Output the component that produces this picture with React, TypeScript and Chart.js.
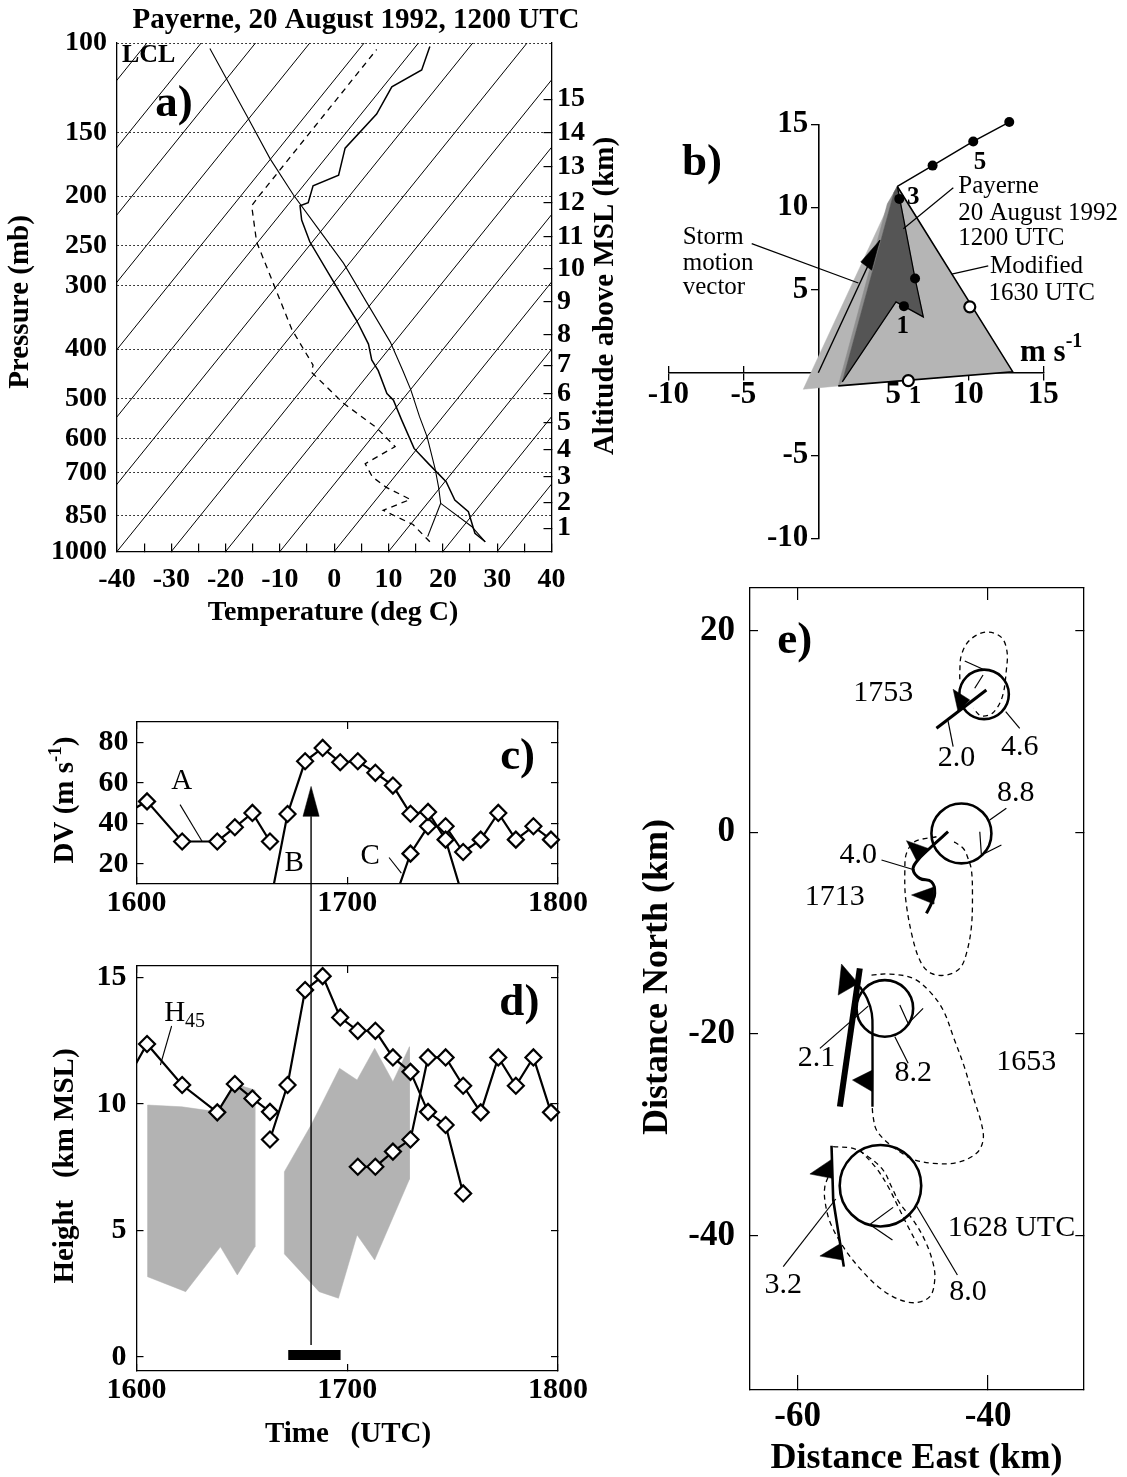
import React, { useEffect, useRef } from 'react';
import { Chart, registerables } from 'chart.js';

Chart.register(...registerables);

const SERIF = '"Liberation Serif", "Times New Roman", Times, serif';
const PAGE_W = 1127;
const PAGE_H = 1477;
const BLACK = '#000000';

/* ================= a) Payerne sounding (skew-T) ================= */
const TEMP_AXIS_TICKS = [-40, -35, -30, -25, -20, -15, -10, -5, 0, 5, 10, 15, 20, 25, 30, 35, 40];
const PRESSURE_TICKS = [100, 150, 200, 250, 300, 400, 500, 600, 700, 850, 1000];
const ALTITUDE_LABELS = ['1', '2', '3', '4', '5', '6', '7', '8', '9', '10', '11', '12', '13', '14', '15'];
const ALTITUDE_PRESSURE = [900, 801, 713, 631, 557, 490, 430, 375, 323, 278, 240, 206, 175, 150, 129];
const ISOTHERM_BASE = [-120, -110, -100, -90, -80, -70, -60, -50, -40, -30, -20, -10, 0, 10, 20, 30];
const ISOTHERM_SKEW = 75.5;
const ENV_P = [957, 921, 835, 792, 729, 671, 627, 551, 504, 489, 441, 420, 391, 351, 294, 246, 223, 209, 206, 191, 182, 161, 138, 122, 113, 101.6];
const ENV_T = [27.8, 25.9, 24.7, 22.2, 20.6, 17.3, 14.7, 12.4, 10.9, 9.7, 8.1, 6.9, 6.3, 4.1, -0.2, -4.5, -6.0, -6.3, -4.8, -3.9, 0.8, 2.0, 7.8, 10.6, 16.1, 17.6];
const DEW_P = [957, 885, 830, 790, 747, 713, 672, 622, 571, 511, 444, 430, 366, 246, 209, 199, 103];
const DEW_T = [17.6, 14.5, 9.0, 14.0, 9.5, 7.0, 5.7, 11.2, 7.8, 1.7, -4.2, -3.9, -7.8, -14.3, -15.2, -13.7, 7.8];
const PARCEL_P = [957, 893, 804, 746, 686, 595, 543, 481, 440, 387, 324, 271, 230, 199, 169, 139, 102.5];
const PARCEL_T = [27.8, 25.3, 19.6, 19.2, 18.55, 17.1, 15.7, 14.1, 12.6, 10.3, 6.0, 1.7, -3.2, -7.5, -11.8, -16.1, -22.9];
const MIXING_P = [804, 935];
const MIXING_T = [19.6, 17.2];

/* ================= b) hodograph ================= */
const HODO_TICKS = [-10, -5, 0, 5, 10, 15];
const HODO_X_LABELS = [-10, -5, 5, 10, 15];
const HODO_Y_LABELS = [15, 10, 5, -5, -10];
const PAYERNE_UPPER_U = [5.27, 7.62, 10.33, 12.73];
const PAYERNE_UPPER_V = [11.25, 12.51, 13.97, 15.14];
const PAYERNE_LOWER_U = [5.27, 6.45, 7.0, 5.18, 1.6];
const PAYERNE_LOWER_V = [11.25, 5.69, 3.37, 4.28, -0.55];
const PAYERNE_DOT_U = [5.71, 6.45, 5.4, 7.62, 10.33, 12.73];
const PAYERNE_DOT_V = [4.02, 5.69, 10.5, 12.51, 13.97, 15.14];
const MODIFIED_U = [1.33, 12.96, 5.27];
const MODIFIED_V = [-0.8, 0.06, 11.25];
const MODIFIED_DOT_U = [6.0, 10.1];
const MODIFIED_DOT_V = [-0.48, 3.98];
const LIGHT_U = [-1.0, 5.27, 12.96, 1.33];
const LIGHT_V = [-1.0, 11.25, 0.06, -0.8];
const MEDIUM_U = [1.33, 4.6, 5.27, 5.05, 1.6];
const MEDIUM_V = [-0.8, 10.2, 11.25, 10.9, -0.55];
const DARK_U = [1.6, 5.05, 5.27, 6.45, 7.0, 5.18];
const DARK_V = [-0.55, 10.9, 11.25, 5.69, 3.37, 4.28];
const STORM_U = [0, 4.1];
const STORM_V = [0, 8.0];
const STORM_HEAD_U = [2.83, 4.1, 3.56];
const STORM_HEAD_V = [6.69, 8.0, 6.19];
const HODO_LEADER_U = [[-4.44, 2.67], [9.0, 5.67], [11.33, 8.89]];
const HODO_LEADER_V = [[7.8, 5.42], [11.17, 8.7], [6.45, 5.95]];

/* ================= c) DV and d) H45 time series (minutes after 1600 UTC) ================= */
const TIME_TICKS = [0, 60, 120];
const TIME_LABELS = ['1600', '1700', '1800'];
const DV_TICKS = [20, 40, 60, 80];
const DV_A_TIME = [-7, 3, 13, 23, 28, 33, 38];
const DV_A = [41, 50.8, 31, 31, 38, 45.1, 31];
const DV_B_TIME = [38, 43, 48, 53, 58, 63, 68, 73, 78, 83, 88, 93];
const DV_B = [0, 44.6, 70.6, 77.2, 70.1, 70.6, 64.9, 58.6, 44.7, 45.6, 31.9, 3];
const DV_C_TIME = [73, 78, 83, 88, 93, 98, 103, 108, 113, 118];
const DV_C = [0, 25.0, 38.5, 38.5, 25.8, 31.9, 45.1, 31.9, 38.5, 31.9];
const HEIGHT_TICKS = [0, 5, 10, 15];
const H_A_TIME = [-7, 3, 13, 23, 28, 33, 38];
const H_A = [9.9, 12.36, 10.74, 9.66, 10.78, 10.21, 9.68];
const H_B_TIME = [38, 43, 48, 53, 58, 63, 68, 73, 78, 83, 88, 93];
const H_B = [8.59, 10.74, 14.49, 15.04, 13.41, 12.88, 12.88, 11.83, 11.26, 9.68, 9.16, 6.46];
const H_C_TIME = [63, 68, 73, 78, 83, 88, 93, 98, 103, 108, 113, 118];
const H_C = [7.51, 7.51, 8.11, 8.59, 11.83, 11.83, 10.71, 9.66, 11.83, 10.71, 11.83, 9.66];
const ECHO1_TIME = [3.15, 12.9, 23.1, 27.8, 33.7, 33.7, 28.7, 23.9, 14.0, 3.15];
const ECHO1_H = [9.95, 9.88, 9.68, 10.8, 10.54, 4.35, 3.24, 4.35, 2.58, 3.17];
const ECHO2_TIME = [42.1, 49.7, 57.8, 62.8, 67.8, 73.0, 77.7, 77.7, 67.8, 62.8, 57.5, 52.0, 42.1];
const ECHO2_H = [7.32, 9.16, 11.4, 10.94, 12.19, 10.87, 12.25, 7.02, 3.83, 4.82, 2.32, 2.58, 4.07];
const BAR_TIME = [43.2, 58.1];
const BAR_H = [0.08, 0.08];
const ARROW_TIME = 49.7;
const ARROW_TIP_DV = 58.2;
const ARROW_BASE_DV = 43.4;
const ARROW_HALF_MIN = 2.3;
const ARROW_FOOT_KM = 0.47;

/* ================= e) storm-relative map (km) ================= */
const E_X_TICKS = [-60, -40];
const E_Y_TICKS = [20, 0, -20, -40];
const E_CIRCLE_X = [-51.3, -50.84, -42.8, -40.42];
const E_CIRCLE_Y = [-35.05, -17.46, -0.1, 13.7];
const E_CIRCLE_R = [4.28, 2.97, 3.15, 2.6];
const FRONT_1628_X = [-56.44, -56.26, -55.15];
const FRONT_1628_Y = [-31.08, -36.47, -43.08];
const FRONT_1653_THICK_X = [-53.47, -55.56];
const FRONT_1653_THICK_Y = [-13.49, -27.21];
const FRONT_1653_X = [-53.47, -52.7, -52.21, -52.14, -52.14];
const FRONT_1653_Y = [-15.31, -16.47, -17.95, -19.94, -27.21];
const FRONT_1713_X = [-44.2, -45.95, -47.52, -47.87, -47.17, -45.95, -45.6, -45.95, -46.47];
const FRONT_1713_Y = [0.07, -1.42, -2.91, -3.73, -4.56, -4.89, -6.05, -7.04, -8.03];
const FRONT_1753_X = [-45.42, -40.18];
const FRONT_1753_Y = [10.33, 14.13];
const PENNANT_X = [[-43.67, -41.92, -43.15], [-48.57, -46.29, -47.45], [-48.04, -45.77, -45.7], [-55.39, -53.64, -55.74], [-54.24, -52.14, -52.14], [-58.71, -56.44, -56.37], [-57.66, -55.46, -55.29]];
const PENNANT_Y = [[14.2, 13.14, 11.98], [-0.82, -1.59, -2.91], [-6.21, -5.45, -7.11], [-13.06, -14.98, -16.14], [-24.57, -23.58, -25.73], [-33.89, -32.44, -34.32], [-42.03, -40.77, -42.42]];
const OUTLINE_1628_X = [-56.27, -54.17, -52.59, -51.02, -50.14, -49.27, -47.87, -46.65, -45.77, -45.6, -46.12, -47.7, -49.62, -51.54, -53.47, -55.22, -56.61, -57.14, -57.14, -56.79];
const OUTLINE_1628_Y = [-31.18, -31.35, -32.17, -33.5, -35.15, -36.8, -38.46, -40.44, -42.75, -44.41, -46.06, -46.66, -46.23, -45.07, -43.25, -41.1, -38.62, -36.47, -35.15, -34.16];
const INNER_1628_X = [-53.47, -51.72, -50.49, -49.45, -48.22, -47.17];
const INNER_1628_Y = [-31.51, -33.33, -35.15, -37.13, -39.45, -41.27];
const OUTLINE_1653_X = [-52.24, -50.32, -47.87, -46.12, -44.72, -43.6, -42.5, -41.57, -40.7, -40.52, -41.22, -43.32, -45.77, -47.87, -49.27, -50.67, -51.72, -52.07, -52.17];
const OUTLINE_1653_Y = [-14.15, -14.05, -14.48, -15.8, -17.62, -20.4, -23.24, -26.22, -28.87, -30.52, -31.84, -32.77, -32.83, -32.44, -31.68, -30.68, -29.53, -28.2, -27.21];
const OUTLINE_1713_X = [-45.42, -47.7, -48.57, -48.74, -48.64, -47.87, -47.0, -45.95, -44.37, -42.97, -42.27, -41.75, -41.64, -41.75, -42.1, -42.6, -43.85];
const OUTLINE_1713_Y = [-0.43, -0.92, -2.08, -3.73, -6.71, -10.68, -12.99, -13.99, -14.15, -13.49, -12.0, -9.36, -6.05, -3.73, -2.58, -1.6, -0.76];
const OUTLINE_1753_X = [-42.97, -42.97, -42.8, -41.92, -40.18, -38.6, -38.01, -38.08, -38.5, -39.48, -40.7, -41.57];
const OUTLINE_1753_Y = [15.2, 15.95, 17.6, 19.09, 19.88, 19.35, 17.93, 16.11, 13.47, 11.88, 11.55, 12.31];
const E_THIN_X = [[-42.45, -40.35], [-41.4, -40.53], [-44.2, -43.67], [-38.15, -36.68], [-40.87, -40.7, -38.6], [-39.83, -38.08], [-51.19, -47.7], [-52.59, -57.66], [-49.27, -48.39, -46.82], [-49.79, -48.39], [-61.51, -55.99], [-47.52, -43.22], [-52.35, -49.97], [-52.35, -50.04]];
const E_THIN_Y = [[17.01, 16.11], [14.3, 15.62], [11.05, 8.51], [11.98, 10.33], [0.07, -2.25, -1.25], [1.23, 2.39], [-2.74, -3.73], [-17.23, -21.43], [-17.13, -18.95, -17.46], [-20.27, -22.91], [-43.08, -36.37], [-37.07, -43.91], [-38.85, -37.2], [-38.95, -40.44]];
const E_LABELS = ['1753', '2.0', '4.6', '8.8', '4.0', '1713', '2.1', '8.2', '1653', '3.2', '8.0', '1628 UTC'];
const E_LABEL_X = [-51.02, -43.32, -36.68, -37.1, -53.64, -56.09, -58.01, -47.87, -35.98, -61.51, -42.1, -37.55];
const E_LABEL_Y = [13.8, 7.35, 8.51, 3.88, -2.25, -6.38, -22.42, -23.91, -22.75, -44.9, -45.57, -39.28];

/* ================= helpers ================= */
type Seg = { t: string; size?: number; dy?: number };
type TextItem = {
  segs: Seg[]; x: number; y: number; size: number; bold?: boolean;
  align?: 'left' | 'center' | 'right'; rot?: number; data?: boolean; ox?: number; oy?: number;
};

function txt(t: string, x: number, y: number, size: number, extra: Partial<TextItem> = {}): TextItem {
  return { segs: [{ t }], x, y, size, ...extra };
}

function drawTexts(chart: any, items: TextItem[]) {
  const ctx = chart.ctx as CanvasRenderingContext2D;
  ctx.save();
  ctx.fillStyle = BLACK;
  ctx.textBaseline = 'middle';
  ctx.textAlign = 'left';
  for (const it of items) {
    let x = it.x;
    let y = it.y;
    if (it.data) {
      x = chart.scales.x.getPixelForValue(it.x);
      y = chart.scales.y.getPixelForValue(it.y);
    }
    x += it.ox || 0;
    y += it.oy || 0;
    const weight = it.bold ? 'bold ' : '';
    const fonts = it.segs.map((s) => `${weight}${s.size || it.size}px ${SERIF}`);
    const widths = it.segs.map((s, i) => {
      ctx.font = fonts[i];
      return ctx.measureText(s.t).width;
    });
    const total = widths.reduce((a, b) => a + b, 0);
    const align = it.align || 'center';
    let cx = align === 'center' ? -total / 2 : align === 'right' ? -total : 0;
    ctx.save();
    ctx.translate(x, y);
    if (it.rot) ctx.rotate(it.rot);
    it.segs.forEach((s, i) => {
      ctx.font = fonts[i];
      ctx.fillText(s.t, cx, s.dy || 0);
      cx += widths[i];
    });
    ctx.restore();
  }
  ctx.restore();
}

const textPlugin = (items: TextItem[]) => ({ id: 'pageTexts', afterDraw: (chart: any) => drawTexts(chart, items) });

// fixed axis box sizes, so the plot areas land exactly where the panels are
const fitTo = (size: number) => (s: any) => {
  if (s.isHorizontal()) s.height = size;
  else s.width = size;
};
const setTicks = (vals: number[]) => (s: any) => {
  s.ticks = vals.map((v) => ({ value: v }));
};
const boldFont = (size: number) => ({ family: SERIF, size, weight: 'bold' as const });
// area: plot-area edges in page pixels; sizes: axis box sizes placed on each side
const pad = (l: number, t: number, r: number, b: number, sizes: { l?: number; t?: number; r?: number; b?: number } = {}) => ({
  left: l - (sizes.l || 0),
  top: t - (sizes.t || 0),
  right: PAGE_W - r - (sizes.r || 0),
  bottom: PAGE_H - b - (sizes.b || 0),
});

function baseOptions(padding: any, scales: any) {
  return {
    responsive: false,
    maintainAspectRatio: false,
    animation: false as const,
    devicePixelRatio: 1,
    events: [] as any[],
    layout: { padding },
    plugins: { legend: { display: false }, tooltip: { enabled: false }, title: { display: false } },
    elements: { point: { radius: 0, hoverRadius: 0 }, line: { tension: 0 } },
    scales,
  };
}

function line(xs: number[], ys: number[], extra: any = {}) {
  return {
    data: xs.map((x, i) => ({ x, y: ys[i] })),
    borderColor: BLACK,
    borderWidth: 1,
    pointRadius: 0,
    fill: false,
    order: 5,
    ...extra,
  };
}

function polygon(xs: number[], ys: number[], color: string, order: number, extra: any = {}) {
  return line([...xs, xs[0]], [...ys, ys[0]], {
    fill: 'shape',
    backgroundColor: color,
    borderColor: color,
    borderWidth: 0.5,
    order,
    ...extra,
  });
}

const boxAxis = (axis: 'x' | 'y', position: string, min: number, max: number, ticks: number[], tickLength: number, size: number, labels?: any) => ({
  axis,
  type: 'linear',
  min,
  max,
  position,
  afterFit: fitTo(size),
  afterBuildTicks: setTicks(ticks),
  ticks: labels ? { autoSkip: false, maxRotation: 0, minRotation: 0, color: BLACK, ...labels } : { display: false },
  grid: { drawOnChartArea: false, drawTicks: true, tickLength, color: BLACK, lineWidth: 1.2 },
  border: { display: true, color: BLACK, width: 1.3 },
});

/* ================= configs ================= */
function configA() {
  const isotherms = ISOTHERM_BASE.map((t0) => line([t0, t0 + ISOTHERM_SKEW], [1000, 100], { borderWidth: 1 }));
  const texts: TextItem[] = [
    txt('Payerne, 20 August 1992, 1200 UTC', 356, 21, 29, { bold: true }),
    txt('LCL', 122, 55, 26, { bold: true, align: 'left' }),
    txt('a)', 174, 104, 45, { bold: true }),
    txt('Pressure (mb)', 21, 302, 29, { bold: true, rot: -Math.PI / 2 }),
    txt('Altitude above MSL (km)', 606, 296, 29, { bold: true, rot: -Math.PI / 2 }),
    txt('Temperature (deg C)', 333, 613, 28, { bold: true }),
  ];
  return {
    type: 'line',
    data: {
      datasets: [
        line(ENV_T, ENV_P, { borderWidth: 1.5, order: 1 }),
        line(PARCEL_T, PARCEL_P, { borderWidth: 1.1, order: 2 }),
        line(MIXING_T, MIXING_P, { borderWidth: 1.1, order: 2 }),
        line(DEW_T, DEW_P, { borderWidth: 1.3, borderDash: [6, 5], order: 2 }),
        ...isotherms,
      ],
    },
    options: baseOptions(pad(117, 43, 551.5, 551.5, { l: 105, r: 45, b: 45 }), {
      x: boxAxis('x', 'bottom', -40, 40, TEMP_AXIS_TICKS, -8, 45, {
        padding: 19.7,
        font: boldFont(28),
        callback: (v: number) => (v % 10 === 0 ? String(v) : ''),
      }),
      y: {
        type: 'logarithmic',
        min: 100,
        max: 1000,
        reverse: true,
        position: 'left',
        afterFit: fitTo(105),
        afterBuildTicks: setTicks(PRESSURE_TICKS),
        ticks: { autoSkip: false, padding: 10, color: BLACK, font: boldFont(28), callback: (v: number) => String(v) },
        grid: { drawOnChartArea: true, drawTicks: false, color: BLACK, lineWidth: 1 },
        border: { display: true, color: BLACK, width: 1.3, dash: [1.5, 2.5] },
      },
      y2: {
        axis: 'y',
        type: 'logarithmic',
        min: 100,
        max: 1000,
        reverse: true,
        position: 'right',
        afterFit: fitTo(45),
        afterBuildTicks: setTicks(ALTITUDE_PRESSURE),
        ticks: {
          autoSkip: false,
          padding: 13.5,
          color: BLACK,
          font: boldFont(28),
          callback: (_v: number, i: number) => ALTITUDE_LABELS[i],
        },
        grid: { drawOnChartArea: false, drawTicks: true, tickLength: -8, color: BLACK, lineWidth: 1.2 },
        border: { display: true, color: BLACK, width: 1.3 },
      },
    }),
    plugins: [textPlugin(texts)],
  };
}

function configB() {
  const texts: TextItem[] = [
    ...HODO_X_LABELS.map((u) => txt(String(u), u, 0, 31, { bold: true, data: true, oy: 22 })),
    ...HODO_Y_LABELS.map((v) => txt(String(v), 0, v, 31, { bold: true, data: true, ox: -10, align: 'right' })),
    txt('b)', -7.75, 12.63, 45, { bold: true, data: true }),
    txt('Storm', -9.04, 8.19, 25, { data: true, align: 'left' }),
    txt('motion', -9.04, 6.61, 25, { data: true, align: 'left' }),
    txt('vector', -9.04, 5.18, 25, { data: true, align: 'left' }),
    txt('Payerne', 9.33, 11.25, 25, { data: true, align: 'left' }),
    txt('20 August 1992', 9.33, 9.6, 25, { data: true, align: 'left' }),
    txt('1200 UTC', 9.33, 8.1, 25, { data: true, align: 'left' }),
    txt('Modified', 11.45, 6.39, 25, { data: true, align: 'left' }),
    txt('1630 UTC', 11.35, 4.78, 25, { data: true, align: 'left' }),
    txt('3', 6.33, 10.6, 25, { bold: true, data: true }),
    txt('5', 10.78, 12.71, 25, { bold: true, data: true }),
    txt('1', 5.63, 2.77, 25, { bold: true, data: true }),
    txt('1', 6.45, -1.45, 25, { bold: true, data: true }),
    { segs: [{ t: 'm s' }, { t: '-1', size: 20, dy: -11 }], x: 13.45, y: 1.19, size: 31, bold: true, data: true, align: 'left' },
  ];
  const leaders = HODO_LEADER_U.map((us, i) => line(us, HODO_LEADER_V[i], { borderWidth: 1.2, clip: false, order: 4 }));
  const centered = (axis: 'x' | 'y', pos: any, tickLength: number, border: boolean) => ({
    axis,
    type: 'linear',
    min: -10,
    max: 15,
    position: pos,
    afterBuildTicks: setTicks(HODO_TICKS),
    ticks: { display: false },
    grid: { drawOnChartArea: false, drawTicks: true, tickLength, color: BLACK, lineWidth: 1.3 },
    border: { display: border, color: BLACK, width: 1.6 },
  });
  return {
    type: 'line',
    data: {
      datasets: [
        polygon(LIGHT_U, LIGHT_V, '#b5b5b5', 30),
        polygon(MEDIUM_U, MEDIUM_V, '#8e8e8e', 29),
        polygon(DARK_U, DARK_V, '#555555', 28),
        line(STORM_U, STORM_V, { borderWidth: 1.4, order: 6 }),
        polygon(STORM_HEAD_U, STORM_HEAD_V, BLACK, 3),
        line(PAYERNE_UPPER_U, PAYERNE_UPPER_V, { borderWidth: 1.5, clip: false, order: 5 }),
        line(PAYERNE_LOWER_U, PAYERNE_LOWER_V, { borderWidth: 1.3, order: 5 }),
        line(MODIFIED_U, MODIFIED_V, { borderWidth: 1.6, order: 5 }),
        line(PAYERNE_DOT_U, PAYERNE_DOT_V, {
          showLine: false, pointRadius: 5, pointBackgroundColor: BLACK, pointBorderColor: BLACK, pointBorderWidth: 0, clip: false, order: 0,
        }),
        line(MODIFIED_DOT_U, MODIFIED_DOT_V, {
          showLine: false, pointRadius: 5.5, pointBackgroundColor: '#ffffff', pointBorderColor: BLACK, pointBorderWidth: 2.2, clip: false, order: 0,
        }),
        ...leaders,
      ],
    },
    options: baseOptions(pad(668.3, 124.4, 1043.3, 538.2), {
      x: centered('x', { y: 0 }, 7, true),
      xUp: centered('x', { y: 0 }, -7, false),
      y: centered('y', { x: 0 }, 7, true),
    }),
    plugins: [textPlugin(texts)],
  };
}

const diamond = {
  pointStyle: 'rectRot',
  pointRadius: 8,
  pointBorderWidth: 2.2,
  pointBackgroundColor: '#ffffff',
  pointBorderColor: BLACK,
  borderWidth: 2.2,
  clip: { left: 0, top: 10, right: 10, bottom: 0 },
  order: 1,
};

const TIME_AXIS_SIZES = { l: 100, b: 40 };

function timeAxes(yMin: number, yMax: number, yTicks: number[], xPad: number, yPad: number) {
  return {
    x: boxAxis('x', 'bottom', 0, 120, TIME_TICKS, -7, TIME_AXIS_SIZES.b, {
      padding: xPad,
      font: boldFont(30),
      callback: (_v: number, i: number) => TIME_LABELS[i],
    }),
    xTop: boxAxis('x', 'top', 0, 120, TIME_TICKS, -7, 0),
    y: boxAxis('y', 'left', yMin, yMax, yTicks, -7, TIME_AXIS_SIZES.l, {
      padding: yPad,
      font: boldFont(30),
      callback: (v: number) => String(v),
    }),
    yRight: boxAxis('y', 'right', yMin, yMax, yTicks, -7, 0),
  };
}

function configC() {
  const texts: TextItem[] = [
    txt('A', 12.9, 60.7, 29, { data: true }),
    txt('B', 44.9, 20.4, 29, { data: true }),
    txt('C', 66.5, 23.6, 29, { data: true }),
    txt('c)', 108.5, 72.3, 45, { bold: true, data: true }),
    { segs: [{ t: 'DV (m s' }, { t: '-1', size: 19, dy: -10 }, { t: ')' }], x: 66, y: 800, size: 29, bold: true, rot: -Math.PI / 2 },
  ];
  return {
    type: 'line',
    data: {
      datasets: [
        line(DV_A_TIME, DV_A, diamond),
        line(DV_B_TIME, DV_B, diamond),
        line(DV_C_TIME, DV_C, diamond),
        polygon([ARROW_TIME - ARROW_HALF_MIN, ARROW_TIME, ARROW_TIME + ARROW_HALF_MIN], [ARROW_BASE_DV, ARROW_TIP_DV, ARROW_BASE_DV], BLACK, 0),
        line([12.4, 18.7], [49.2, 31.0], { borderWidth: 1.1 }),
        line([71.9, 75.4], [23.1, 15.4], { borderWidth: 1.1 }),
      ],
    },
    options: baseOptions(pad(136.5, 722, 558, 884, TIME_AXIS_SIZES), timeAxes(10, 90, DV_TICKS, 8, 15)),
    plugins: [textPlugin(texts)],
  };
}

function configD(getC: () => any) {
  const texts: TextItem[] = [
    { segs: [{ t: 'H' }, { t: '45', size: 20, dy: 8 }], x: 13.7, y: 13.57, size: 29, data: true },
    txt('d)', 109, 13.96, 45, { bold: true, data: true }),
    txt('Height   (km MSL)', 66, 1166, 29, { bold: true, rot: -Math.PI / 2 }),
    txt('Time   (UTC)', 348, 1435, 29, { bold: true }),
  ];
  const arrowLine = {
    id: 'arrowLine',
    afterDatasetsDraw: (chart: any) => {
      const c = getC();
      if (!c) return;
      const ctx = chart.ctx as CanvasRenderingContext2D;
      const x = chart.scales.x.getPixelForValue(ARROW_TIME);
      const y1 = chart.scales.y.getPixelForValue(ARROW_FOOT_KM);
      const y0 = c.scales.y.getPixelForValue(ARROW_BASE_DV);
      ctx.save();
      ctx.strokeStyle = BLACK;
      ctx.lineWidth = 1.4;
      ctx.beginPath();
      ctx.moveTo(x, y1);
      ctx.lineTo(x, y0);
      ctx.stroke();
      ctx.restore();
    },
  };
  return {
    type: 'line',
    data: {
      datasets: [
        polygon(ECHO1_TIME, ECHO1_H, '#b3b3b3', 20),
        polygon(ECHO2_TIME, ECHO2_H, '#b3b3b3', 20),
        line(H_A_TIME, H_A, diamond),
        line(H_B_TIME, H_B, diamond),
        line(H_C_TIME, H_C, diamond),
        line(BAR_TIME, BAR_H, { borderWidth: 10, borderCapStyle: 'butt', order: 3 }),
        line([10.0, 6.8], [13.07, 11.53], { borderWidth: 1.1 }),
      ],
    },
    options: baseOptions(pad(136.5, 966, 558, 1371, TIME_AXIS_SIZES), timeAxes(-0.553, 15.44, HEIGHT_TICKS, 8, 17)),
    plugins: [textPlugin(texts), arrowLine],
  };
}

function configE() {
  const texts: TextItem[] = [
    ...E_LABELS.map((t, i) => txt(t, E_LABEL_X[i], E_LABEL_Y[i], 30, { data: true })),
    txt('e)', -60.29, 18.92, 45, { bold: true, data: true }),
    txt('Distance East (km)', 916.5, 1459, 36, { bold: true }),
    txt('Distance North (km)', 658, 977, 36, { bold: true, rot: -Math.PI / 2 }),
  ];
  const dashed = { borderWidth: 1.3, borderDash: [5, 4], tension: 0.35, order: 6 };
  return {
    type: 'line',
    data: {
      datasets: [
        line(E_CIRCLE_X, E_CIRCLE_Y, {
          showLine: false,
          pointStyle: 'circle',
          pointRadius: (ctx: any) => {
            const s = ctx.chart.scales.x;
            const i = ctx.dataIndex;
            return Math.abs(s.getPixelForValue(E_CIRCLE_X[i] + E_CIRCLE_R[i]) - s.getPixelForValue(E_CIRCLE_X[i]));
          },
          pointBorderWidth: 2.6,
          pointBorderColor: BLACK,
          pointBackgroundColor: 'rgba(0,0,0,0)',
          order: 1,
        }),
        line(FRONT_1628_X, FRONT_1628_Y, { borderWidth: 2.6, order: 2 }),
        line(FRONT_1653_THICK_X, FRONT_1653_THICK_Y, { borderWidth: 6, order: 2 }),
        line(FRONT_1653_X, FRONT_1653_Y, { borderWidth: 2.4, tension: 0.4, order: 2 }),
        line(FRONT_1713_X, FRONT_1713_Y, { borderWidth: 3, tension: 0.45, order: 2 }),
        line(FRONT_1753_X, FRONT_1753_Y, { borderWidth: 3, order: 2 }),
        ...PENNANT_X.map((xs, i) => polygon(xs, PENNANT_Y[i], BLACK, 0)),
        line(OUTLINE_1628_X, OUTLINE_1628_Y, dashed),
        line(INNER_1628_X, INNER_1628_Y, dashed),
        line(OUTLINE_1653_X, OUTLINE_1653_Y, dashed),
        line(OUTLINE_1713_X, OUTLINE_1713_Y, dashed),
        line(OUTLINE_1753_X, OUTLINE_1753_Y, dashed),
        ...E_THIN_X.map((xs, i) => line(xs, E_THIN_Y[i], { borderWidth: 1.2, order: 4 })),
      ],
    },
    options: baseOptions(pad(750, 588, 1083.3, 1390, { l: 85, b: 55 }), {
      x: boxAxis('x', 'bottom', -65, -30, E_X_TICKS, -15, 55, {
        padding: 20.7,
        font: boldFont(35),
        callback: (v: number) => String(v),
      }),
      xTop: boxAxis('x', 'top', -65, -30, E_X_TICKS, -12, 0),
      y: boxAxis('y', 'left', -55.32, 24.25, E_Y_TICKS, -8, 85, {
        padding: 23,
        font: boldFont(35),
        callback: (v: number) => String(v),
      }),
      yRight: boxAxis('y', 'right', -55.32, 24.25, E_Y_TICKS, -8, 0),
    }),
    plugins: [textPlugin(texts)],
  };
}

export default function App() {
  const refA = useRef<HTMLCanvasElement>(null);
  const refB = useRef<HTMLCanvasElement>(null);
  const refC = useRef<HTMLCanvasElement>(null);
  const refD = useRef<HTMLCanvasElement>(null);
  const refE = useRef<HTMLCanvasElement>(null);

  useEffect(() => {
    const charts: any[] = [];
    let cChart: any = null;
    charts.push(new Chart(refA.current as any, configA() as any));
    charts.push(new Chart(refB.current as any, configB() as any));
    cChart = new Chart(refC.current as any, configC() as any);
    charts.push(cChart);
    charts.push(new Chart(refD.current as any, configD(() => cChart) as any));
    charts.push(new Chart(refE.current as any, configE() as any));
    return () => {
      charts.forEach((c) => c.destroy());
    };
  }, []);

  const canvasStyle: React.CSSProperties = { position: 'absolute', left: 0, top: 0, width: PAGE_W, height: PAGE_H };
  return (
    <div style={{ position: 'absolute', left: 0, top: 0, width: PAGE_W, height: PAGE_H, background: '#ffffff', overflow: 'hidden' }}>
      <canvas ref={refA} width={PAGE_W} height={PAGE_H} style={canvasStyle} />
      <canvas ref={refB} width={PAGE_W} height={PAGE_H} style={canvasStyle} />
      <canvas ref={refC} width={PAGE_W} height={PAGE_H} style={canvasStyle} />
      <canvas ref={refD} width={PAGE_W} height={PAGE_H} style={canvasStyle} />
      <canvas ref={refE} width={PAGE_W} height={PAGE_H} style={canvasStyle} />
    </div>
  );
}
